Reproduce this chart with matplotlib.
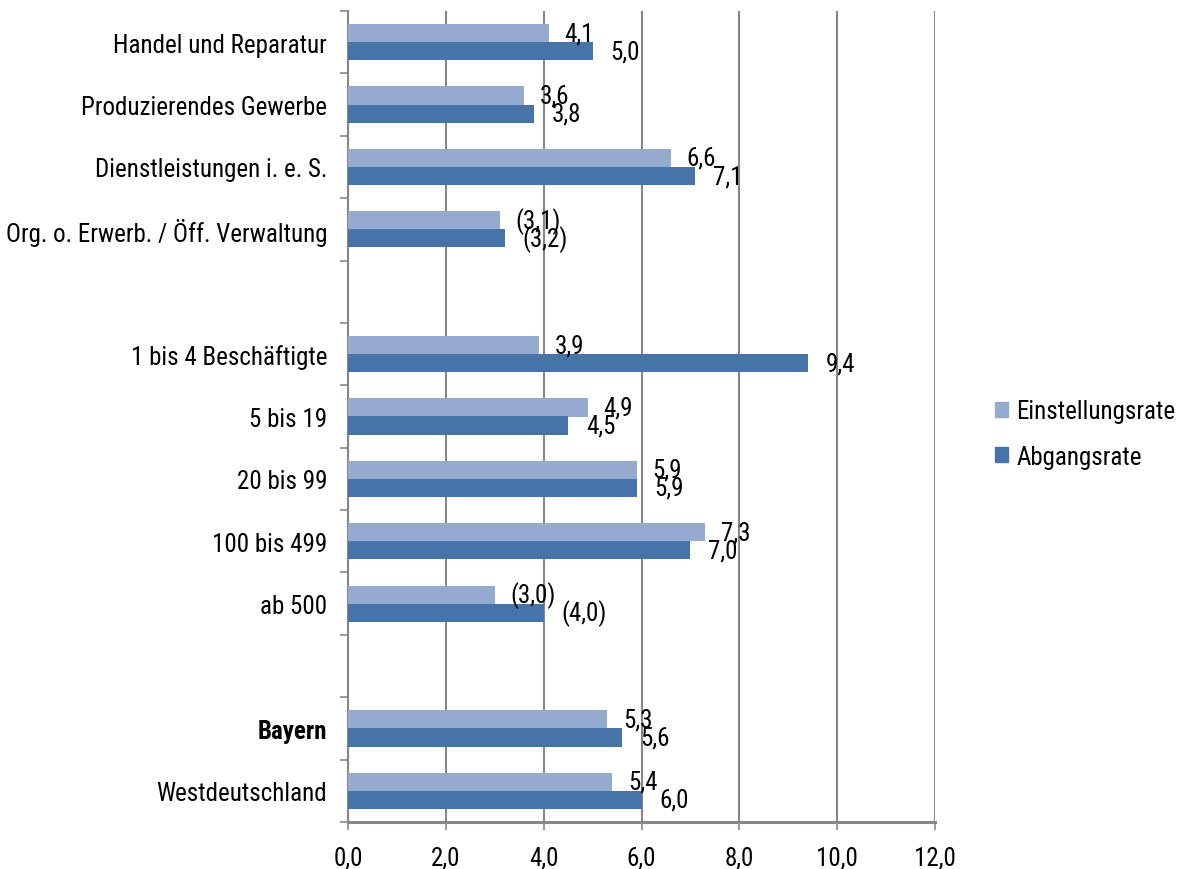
import matplotlib
matplotlib.use("Agg")
import matplotlib.pyplot as plt
from matplotlib.patches import Patch
import numpy as np

plt.rcParams['font.family'] = ['Roboto Condensed', 'DejaVu Sans']

categories = ["Handel und Reparatur", "Produzierendes Gewerbe", "Dienstleistungen i. e. S.",
              "Org. o. Erwerb. / Öff. Verwaltung", "",
              "1 bis 4 Beschäftigte", "5 bis 19", "20 bis 99", "100 bis 499", "ab 500", "",
              "Bayern", "Westdeutschland"]
einstellungsrate = [4.1, 3.6, 6.6, 3.1, None, 3.9, 4.9, 5.9, 7.3, 3.0, None, 5.3, 5.4]
abgangsrate = [5.0, 3.8, 7.1, 3.2, None, 9.4, 4.5, 5.9, 7.0, 4.0, None, 5.6, 6.0]
# values with limited reliability are shown in parentheses
eingeschraenkt = [False, False, False, True, False, False, False, False, False, True, False, False, False]
bold_labels = ["Bayern"]
x_ticks = [0, 2, 4, 6, 8, 10, 12]

c_light = "#95AACF"
c_dark = "#4673A8"
grid_c = "#878787"
fs = 18

fig = plt.figure(figsize=(11.81, 8.70), dpi=100)
ax = fig.add_axes([348 / 1181, 1 - 823 / 870, (935 - 348) / 1181, (823 - 12) / 870])

n = len(categories)
pos = np.arange(n)
h = 0.29


def fmt(v, paren):
    s = f"{v:.1f}".replace(".", ",")
    return f"({s})" if paren else s


for i in range(n):
    e, a = einstellungsrate[i], abgangsrate[i]
    if e is not None:
        ax.barh(pos[i] - h / 2, e, height=h, color=c_light, zorder=3)
        ax.annotate(fmt(e, eingeschraenkt[i]), (e, pos[i] - h / 2), xytext=(11.5, 0),
                    textcoords="offset points", va="center", ha="left", fontsize=fs, zorder=4)
    if a is not None:
        ax.barh(pos[i] + h / 2, a, height=h, color=c_dark, zorder=3)
        ax.annotate(fmt(a, eingeschraenkt[i]), (a, pos[i] + h / 2), xytext=(13, 0),
                    textcoords="offset points", va="center", ha="left", fontsize=fs, zorder=4)

ax.set_xlim(0, 12)
ax.set_ylim(n - 0.5, -0.5)
ax.set_xticks(x_ticks)
ax.set_xticklabels([f"{t:.1f}".replace(".", ",") for t in x_ticks], fontsize=fs)
ax.xaxis.grid(True, color=grid_c, lw=1.5, zorder=0)
ax.set_axisbelow(True)

ax.set_yticks(pos)
ax.set_yticklabels(categories, fontsize=fs)
for lbl in ax.get_yticklabels():
    if lbl.get_text() in bold_labels:
        lbl.set_fontweight("bold")
ax.tick_params(axis="y", which="major", length=0, pad=15)
ax.set_yticks(np.arange(n + 1) - 0.5, minor=True)
ax.tick_params(axis="y", which="minor", length=6, width=1.2, color=grid_c, direction="out")
ax.tick_params(axis="x", which="major", length=6, width=1.2, color=grid_c, direction="out", pad=11)

for s in ["top", "right"]:
    ax.spines[s].set_visible(False)
ax.spines["left"].set_color(grid_c)
ax.spines["left"].set_linewidth(1.5)
ax.spines["bottom"].set_color(grid_c)
ax.spines["bottom"].set_linewidth(2.2)

handles = [Patch(color=c_light, label="Einstellungsrate"), Patch(color=c_dark, label="Abgangsrate")]
fig.legend(handles=handles, loc="center left", bbox_to_anchor=(972 / 1181, 1 - 435 / 870),
           frameon=False, fontsize=fs, handlelength=0.52, handleheight=0.52,
           handletextpad=0.35, labelspacing=0.85)

fig.savefig("out.png", dpi=100)
